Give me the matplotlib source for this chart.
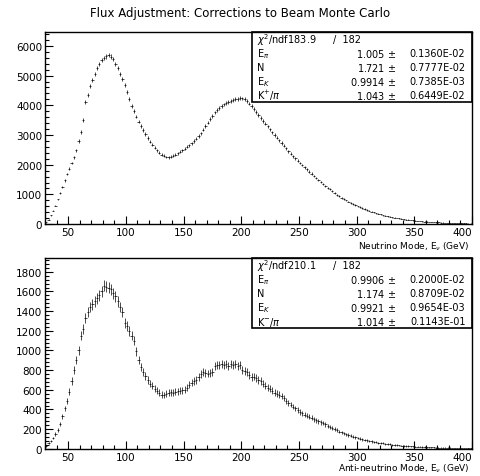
import numpy as np
import matplotlib
matplotlib.use('Agg')
import matplotlib.pyplot as plt
from matplotlib.ticker import MultipleLocator

# bin centres, 2 GeV bins from 30 to 400
energy = list(range(31, 400, 2))

nu_counts = [
    60, 150, 300, 450, 620, 830, 1040, 1250, 1470, 1680,
    1870, 2060, 2250, 2480, 2800, 3100, 3500, 4100, 4350, 4650,
    4850, 5050, 5250, 5400, 5520, 5600, 5650, 5700, 5640, 5550,
    5400, 5250, 5050, 4880, 4680, 4450, 4200, 3980, 3800, 3620,
    3450, 3300, 3170, 3030, 2900, 2780, 2670, 2570, 2480, 2400,
    2340, 2300, 2260, 2250, 2270, 2300, 2340, 2390, 2430, 2480,
    2530, 2600, 2660, 2720, 2800, 2880, 2970, 3060, 3180, 3300,
    3420, 3530, 3640, 3760, 3850, 3920, 3980, 4030, 4080, 4120,
    4150, 4170, 4200, 4220, 4240, 4230, 4200, 4140, 4060, 3980,
    3880, 3780, 3680, 3580, 3480, 3380, 3290, 3190, 3090, 3000,
    2910, 2820, 2730, 2640, 2550, 2460, 2370, 2290, 2210, 2130,
    2060, 1990, 1910, 1840, 1770, 1700, 1630, 1560, 1490, 1420,
    1350, 1290, 1230, 1170, 1110, 1050, 990, 940, 890, 840,
    800, 760, 720, 680, 640, 600, 570, 540, 510, 480,
    450, 420, 400, 370, 345, 325, 305, 285, 265, 250,
    235, 220, 205, 190, 178, 165, 155, 145, 135, 125,
    118, 110, 102, 95, 88, 82, 76, 71, 66, 61,
    57, 53, 49, 45, 42, 39, 36, 33, 31, 28,
    26, 24, 22, 20, 18,
]

nubar_counts = [
    30, 55, 80, 110, 150, 195, 250, 330, 410, 490,
    580, 690, 800, 900, 1000, 1150, 1220, 1330, 1390, 1440,
    1470, 1500, 1530, 1560, 1600, 1660, 1650, 1640, 1620, 1580,
    1550, 1500, 1440, 1390, 1280, 1250, 1200, 1150, 1100, 990,
    900, 830, 780, 740, 700, 660, 640, 610, 590, 570,
    550, 545, 560, 570, 575, 570, 580, 585, 590, 595,
    600, 620, 650, 670, 690, 700, 730, 760, 780, 770,
    765, 770, 780, 840, 850, 850, 860, 850, 860, 840,
    860, 850, 860, 840, 850, 800, 790, 780, 750, 730,
    735, 720, 700, 690, 660, 640, 620, 610, 590, 570,
    560, 550, 540, 520, 490, 470, 450, 430, 410, 395,
    375, 360, 345, 335, 325, 315, 300, 290, 280, 270,
    260, 248, 235, 222, 210, 198, 188, 176, 166, 157,
    148, 140, 133, 125, 118, 110, 104, 97, 91, 86,
    80, 76, 72, 67, 63, 59, 55, 52, 48, 45,
    42, 40, 37, 35, 33, 31, 29, 27, 26, 24,
    23, 22, 20, 19, 18, 17, 16, 15, 14, 13,
    13, 12, 11, 11, 10, 10, 9, 9, 8, 8,
    7, 7, 7, 6, 6,
]

x_ticks = [50, 100, 150, 200, 250, 300, 350, 400]

nu_fit = [
    ('$\\chi^2$/ndf183.9', '/  182', ''),
    ('E$_\\pi$', '1.005 $\\pm$', '0.1360E-02'),
    ('N', '1.721 $\\pm$', '0.7777E-02'),
    ('E$_K$', '0.9914 $\\pm$', '0.7385E-03'),
    ('K$^{+}$/$\\pi$', '1.043 $\\pm$', '0.6449E-02'),
]
nubar_fit = [
    ('$\\chi^2$/ndf210.1', '/  182', ''),
    ('E$_\\pi$', '0.9906 $\\pm$', '0.2000E-02'),
    ('N', '1.174 $\\pm$', '0.8709E-02'),
    ('E$_K$', '0.9921 $\\pm$', '0.9654E-03'),
    ('K$^{-}$/$\\pi$', '1.014 $\\pm$', '0.1143E-01'),
]

plt.rcParams['font.family'] = ['DejaVu Sans']
plt.rcParams['mathtext.fontset'] = 'dejavusans'

fig = plt.figure(figsize=(4.8, 4.77), dpi=100)
fig.text(0.5, 0.972, 'Flux Adjustment: Corrections to Beam Monte Carlo',
         ha='center', va='center', fontsize=8.5)

ax1 = fig.add_axes([0.094, 0.528, 0.889, 0.403])
ax2 = fig.add_axes([0.094, 0.057, 0.889, 0.400])


def draw(ax, counts, ymax, major, minor, xlabel, fit, scale, lab_y):
    x = np.array(energy)
    y = np.array(counts, dtype=float)
    err = scale * np.sqrt(y)
    ax.errorbar(x, y, xerr=1.0, yerr=err, fmt='none', ecolor='black',
                elinewidth=0.5, capsize=0)
    ax.set_xticks(x_ticks)
    ax.set_xlim(30, 400)
    ax.set_ylim(0, ymax)
    ax.xaxis.set_minor_locator(MultipleLocator(10))
    ax.yaxis.set_major_locator(MultipleLocator(major))
    ax.yaxis.set_minor_locator(MultipleLocator(minor))
    ax.tick_params(which='both', direction='in', top=False, right=False,
                   labelsize=7.5, width=0.8, pad=2)
    ax.tick_params(which='major', length=6)
    ax.tick_params(which='minor', length=3)
    # last label sits inside the frame like in the original
    ax.xaxis.get_major_ticks()[-1].label1.set_horizontalalignment('right')
    for s in ax.spines.values():
        s.set_linewidth(1.0)
    ax.text(0.995, lab_y, xlabel, transform=ax.transAxes, ha='right',
            va='center', fontsize=6.5)

    # fit statistics box
    x0, y0 = 0.485, 0.633
    box = plt.Rectangle((x0, y0), 1 - x0, 1 - y0, transform=ax.transAxes,
                        fill=False, lw=1.2, ec='black', clip_on=False)
    ax.add_patch(box)
    dy = (1 - y0) / 5
    for i, (name, val, e) in enumerate(fit):
        yy = 1 - dy * (i + 0.5)
        ax.text(x0 + 0.012, yy, name, transform=ax.transAxes, fontsize=7,
                va='center', ha='left')
        if e == '':
            ax.text(0.675, yy, val, transform=ax.transAxes,
                    fontsize=7, va='center', ha='left')
        else:
            ax.text(0.822, yy, val, transform=ax.transAxes, fontsize=7,
                    va='center', ha='right')
            ax.text(0.985, yy, e, transform=ax.transAxes, fontsize=7,
                    va='center', ha='right')


draw(ax1, nu_counts, 6470, 1000, 200, 'Neutrino Mode, E$_\\nu$ (GeV)',
     nu_fit, 1.0, -0.11)
draw(ax2, nubar_counts, 1940, 200, 40,
     'Anti-neutrino Mode, E$_\\nu$ (GeV)', nubar_fit, 1.4, -0.10)

fig.savefig('out.png', dpi=100)
